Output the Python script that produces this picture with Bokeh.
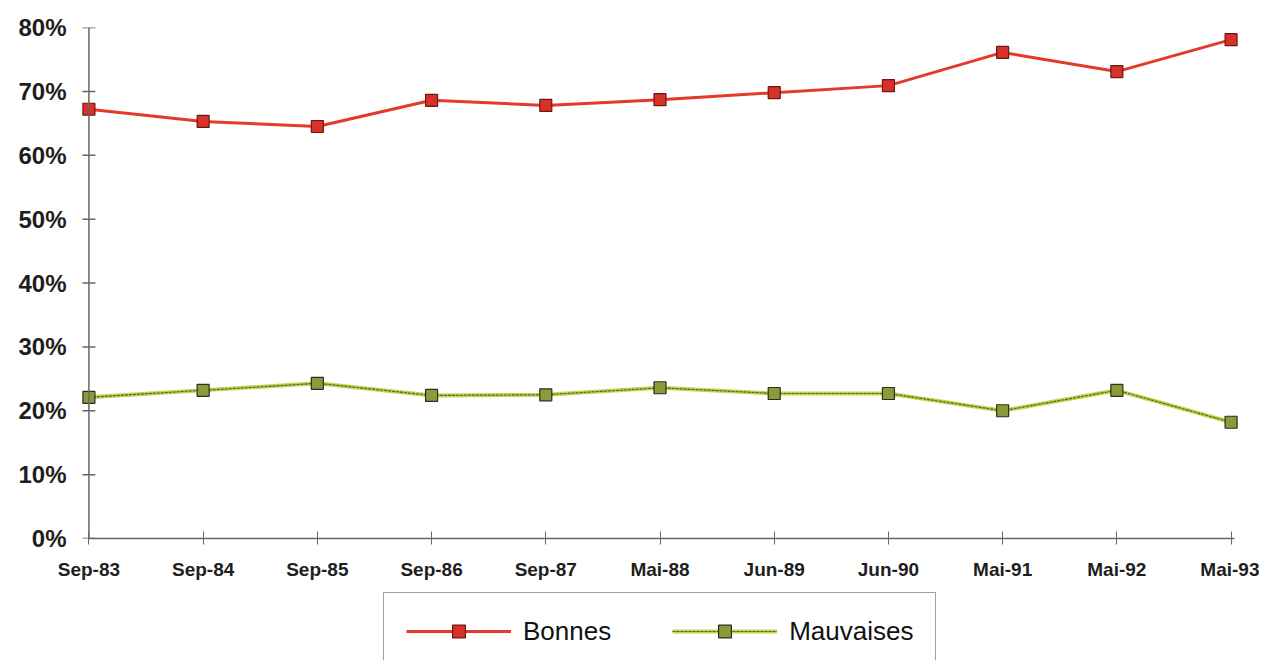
from bokeh.plotting import figure
from bokeh.layouts import column
from bokeh.models import Range1d, FixedTicker, PrintfTickFormatter, Legend, LegendItem, Span
from bokeh.embed import file_html
from bokeh.resources import INLINE

dates = ["Sep-83", "Sep-84", "Sep-85", "Sep-86", "Sep-87", "Mai-88",
         "Jun-89", "Jun-90", "Mai-91", "Mai-92", "Mai-93"]
bonnes = [67.2, 65.3, 64.5, 68.6, 67.8, 68.7, 69.8, 70.9, 76.1, 73.1, 78.1]
mauvaises = [22.1, 23.2, 24.3, 22.4, 22.5, 23.6, 22.7, 22.7, 20.0, 23.2, 18.2]
y_ticks = [0, 10, 20, 30, 40, 50, 60, 70, 80]

x = list(range(len(dates)))

FONT = "Liberation Sans"
RED_LINE = "#e4392b"
RED_FILL = "#d9302a"
RED_EDGE = "#6b1a10"
GREEN_LINE = "#c5d44a"
GREEN_CORE = "#5c5e36"
GREEN_FILL = "#8c9a3c"
GREEN_EDGE = "#2e2e1c"
AXIS_COL = "#666666"

W = 1259
H1 = 588
FL, FW, FT, FH = 77, 1165, 27, 511

p1 = figure(width=W, height=H1, output_backend="svg", toolbar_location=None,
            x_range=Range1d(-0.1, 10.1), y_range=Range1d(0, 80),
            min_border_left=FL, min_border_right=W - FL - FW,
            min_border_top=FT, min_border_bottom=H1 - FT - FH)
p1.outline_line_color = None
p1.xgrid.visible = False
p1.ygrid.visible = False

# y axis: labels only (line and ticks drawn at x = 0 below)
p1.yaxis.ticker = FixedTicker(ticks=y_ticks)
p1.yaxis.formatter = PrintfTickFormatter(format="%d%%")
p1.yaxis.major_label_text_font = FONT
p1.yaxis.major_label_text_font_size = "24px"
p1.yaxis.major_label_text_font_style = "bold"
p1.yaxis.major_label_text_color = "#1e1e1e"
p1.yaxis.major_label_standoff = 11
p1.yaxis.minor_tick_line_color = None
p1.yaxis.major_tick_line_color = None
p1.yaxis.major_tick_in = 0
p1.yaxis.major_tick_out = 0
p1.yaxis.axis_line_color = None

p1.add_layout(Span(location=0, dimension="height", line_color=AXIS_COL, line_width=1.5))
p1.scatter([0] * len(y_ticks), y_ticks, marker="dash", size=13,
           line_color=AXIS_COL, line_width=1.5)

p1.xaxis.bounds = (0, 10.03)
p1.xaxis.ticker = FixedTicker(ticks=x)
p1.xaxis.major_label_overrides = {i: d for i, d in enumerate(dates)}
p1.xaxis.major_label_text_font = FONT
p1.xaxis.major_label_text_font_size = "19px"
p1.xaxis.major_label_text_font_style = "bold"
p1.xaxis.major_label_text_color = "#1e1e1e"
p1.xaxis.major_label_standoff = 14
p1.xaxis.minor_tick_line_color = None
p1.xaxis.major_tick_in = 7
p1.xaxis.major_tick_out = 6
p1.xaxis.axis_line_color = AXIS_COL
p1.xaxis.major_tick_line_color = AXIS_COL
p1.xaxis.axis_line_width = 1.5

# Bonnes
p1.line(x, bonnes, line_color=RED_LINE, line_width=3)
p1.scatter(x, bonnes, marker="square", size=12,
           fill_color=RED_FILL, line_color=RED_EDGE, line_width=1.2)
# Mauvaises
p1.line(x, mauvaises, line_color=GREEN_LINE, line_width=4)
p1.line(x, mauvaises, line_color=GREEN_CORE, line_width=1.2, line_dash="3 1")
p1.scatter(x, mauvaises, marker="square", size=12,
           fill_color=GREEN_FILL, line_color=GREEN_EDGE, line_width=1.2)

# Legend strip below the chart (its renderers hold the series, out of view)
H2 = 660 - H1
p2 = figure(width=W, height=H2, output_backend="svg", toolbar_location=None,
            x_range=Range1d(0, 1), y_range=Range1d(0, 1),
            x_axis_location=None, y_axis_location=None,
            min_border=0)
p2.outline_line_color = None
p2.xgrid.visible = False
p2.ygrid.visible = False

lb1 = p2.line(x, bonnes, line_color=RED_LINE, line_width=3)
lb2 = p2.scatter(x, bonnes, marker="square", size=12,
                 fill_color=RED_FILL, line_color=RED_EDGE, line_width=1.2)
lm1 = p2.line(x, mauvaises, line_color=GREEN_LINE, line_width=4)
lm2 = p2.line(x, mauvaises, line_color=GREEN_CORE, line_width=1.2, line_dash="3 1")
lm3 = p2.scatter(x, mauvaises, marker="square", size=12,
                 fill_color=GREEN_FILL, line_color=GREEN_EDGE, line_width=1.2)

legend = Legend(items=[
    LegendItem(label="Bonnes", renderers=[lb1, lb2]),
    LegendItem(label="Mauvaises", renderers=[lm1, lm2, lm3]),
], orientation="horizontal", location=(383 - FL, -10))
legend.label_text_font = FONT
legend.label_text_font_size = "26px"
legend.label_text_color = "#111111"
legend.glyph_width = 105
legend.glyph_height = 32
legend.label_height = 32
legend.label_standoff = 12
legend.spacing = 61
legend.padding = 22
legend.margin = 0
legend.border_line_color = "#444444"
legend.border_line_width = 1.5
legend.background_fill_alpha = 1.0
p2.add_layout(legend, "center")

p = column(p1, p2, spacing=0)

open("out.html", "w").write(file_html(p, INLINE))
